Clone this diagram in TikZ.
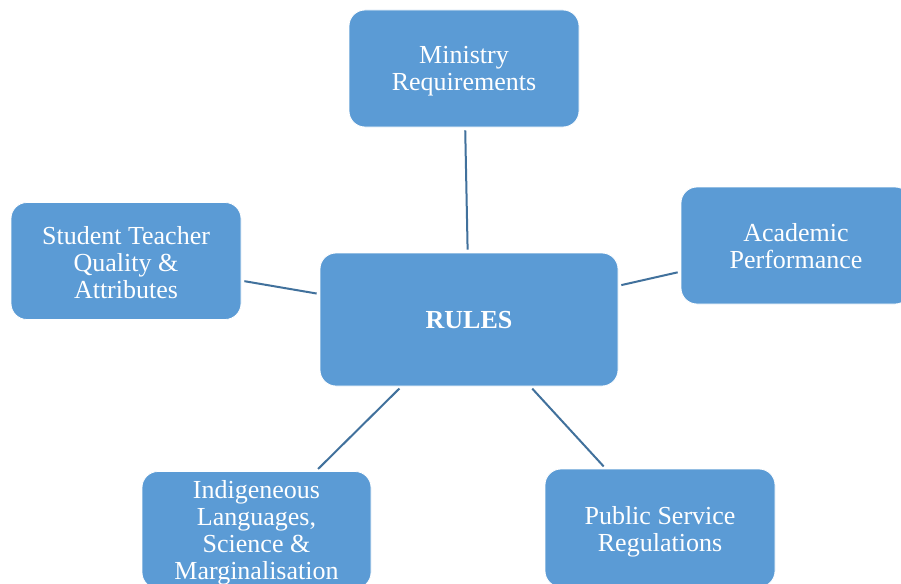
\documentclass[tikz,border=0pt]{standalone}
\usepackage{fontspec}
\setmainfont{Liberation Serif}
\definecolor{boxblue}{HTML}{5B9BD5}
\definecolor{linkblue}{HTML}{41719C}
\begin{document}
\begin{tikzpicture}[x=1pt,y=-1pt,
  box/.style={rectangle, rounded corners=16pt, fill=boxblue, draw=white, line width=0.8pt, inner sep=0pt},
  lbl/.style={text=white, align=center, inner sep=0pt, yshift=-3pt, font=\fontsize{26}{27}\selectfont},
  link/.style={draw=linkblue, line width=2pt, shorten <=3pt, shorten >=3pt}]
\clip (0,0) rectangle (901,583);
\fill[white] (0,0) rectangle (901,583);
\node[box, minimum width=298pt, minimum height=133pt,
  label={[lbl, yshift=2pt, font=\fontsize{26}{27}\selectfont\bfseries]center:RULES}] (rules) at (469,319.5) {};
\node[box, minimum width=230pt, minimum height=117pt,
  label={[lbl]center:Ministry\\Requirements}] (ministry) at (464,68.5) {};
\node[box, minimum width=230pt, minimum height=117pt,
  label={[lbl, yshift=1pt]center:Student Teacher\\Quality \&\\Attributes}] (student) at (126,261) {};
\node[box, minimum width=230pt, minimum height=117pt,
  label={[lbl, yshift=2pt]center:Academic\\Performance}] (academic) at (796,245.5) {};
\node[box, minimum width=229pt, minimum height=117pt,
  label={[lbl]center:Indigeneous\\Languages,\\Science \&\\Marginalisation}] (indig) at (256.5,530) {};
\node[box, minimum width=230pt, minimum height=118pt,
  label={[lbl, yshift=-1pt]center:Public Service\\Regulations}] (public) at (660,528) {};
\draw[link] (ministry) -- (rules);
\draw[link] (student) -- (rules);
\draw[link] (academic) -- (rules);
\draw[link] (indig) -- (rules);
\draw[link] (public) -- (rules);
\end{tikzpicture}
\end{document}
